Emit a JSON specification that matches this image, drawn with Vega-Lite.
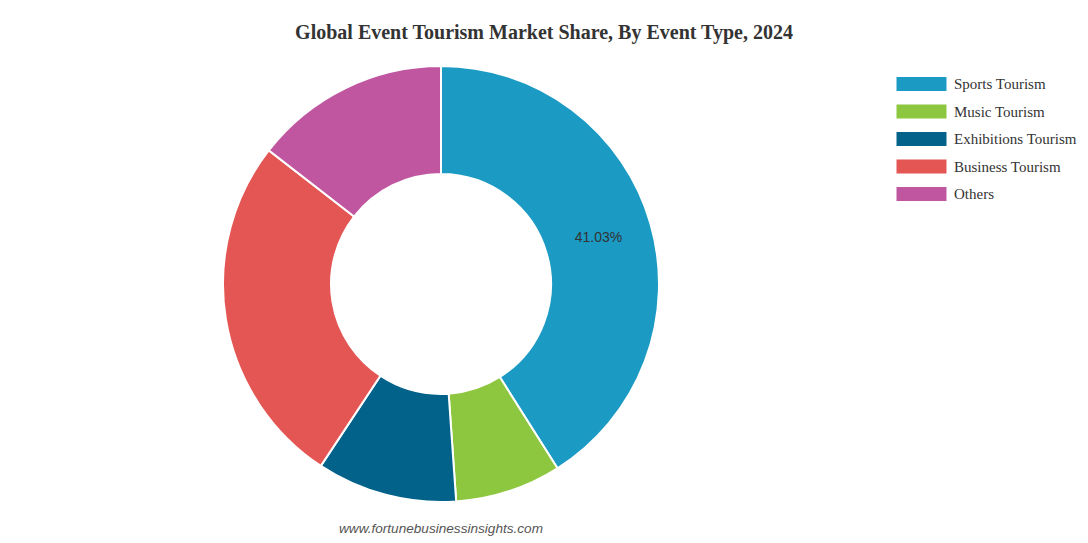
{
  "$schema": "https://vega.github.io/schema/vega-lite/v6.json",
  "autosize": "none",
  "width": 882,
  "height": 436,
  "padding": {"left": 0, "top": 66, "right": 206, "bottom": 41},
  "background": "white",
  "title": {
    "text": "Global Event Tourism Market Share, By Event Type, 2024",
    "font": "Liberation Serif",
    "fontSize": 20,
    "fontWeight": "bold",
    "color": "#333333",
    "anchor": "middle",
    "dx": 103,
    "offset": 19
  },
  "config": {"view": {"stroke": null}},
  "layer": [
    {
      "data": {
        "values": [
          {"type": "Sports Tourism", "share": 41.03, "idx": 1, "label": "41.03%"},
          {"type": "Music Tourism", "share": 7.86, "idx": 2, "label": ""},
          {"type": "Exhibitions Tourism", "share": 10.4, "idx": 3, "label": ""},
          {"type": "Business Tourism", "share": 26.21, "idx": 4, "label": ""},
          {"type": "Others", "share": 14.5, "idx": 5, "label": ""}
        ]
      },
      "encoding": {
        "theta": {"field": "share", "type": "quantitative", "stack": true},
        "order": {"field": "idx", "type": "quantitative"}
      },
      "layer": [
        {
          "mark": {"type": "arc", "outerRadius": 218, "innerRadius": 110, "stroke": "white", "strokeWidth": 2},
          "encoding": {
            "color": {
              "field": "type",
              "type": "nominal",
              "sort": null,
              "scale": {
                "domain": ["Sports Tourism", "Music Tourism", "Exhibitions Tourism", "Business Tourism", "Others"],
                "range": ["#1b9ac4", "#8dc63f", "#03628a", "#e45654", "#bf569f"]
              },
              "legend": {
                "title": null,
                "orient": "none",
                "legendX": 914,
                "legendY": 10.5,
                "symbolType": "M-3.57,-1H3.57V1H-3.57Z",
                "symbolSize": 196,
                "symbolStrokeWidth": 0,
                "labelFont": "Liberation Serif",
                "labelFontSize": 15,
                "labelColor": "#333333",
                "labelOffset": 25,
                "rowPadding": 11.5
              }
            },
            "tooltip": [
              {"field": "type", "type": "nominal", "title": "Event type"},
              {"field": "share", "type": "quantitative", "title": "Share (%)"}
            ]
          }
        },
        {
          "mark": {"type": "text", "radius": 164, "font": "Liberation Sans", "fontSize": 14, "color": "#333333"},
          "encoding": {
            "text": {"field": "label", "type": "nominal"}
          }
        }
      ]
    },
    {
      "data": {"values": [{"note": "www.fortunebusinessinsights.com"}]},
      "mark": {
        "type": "text",
        "x": {"expr": "width / 2"},
        "y": {"expr": "height + 27"},
        "font": "Liberation Sans",
        "fontSize": 13.6,
        "fontStyle": "italic",
        "color": "#555555"
      },
      "encoding": {
        "text": {"field": "note", "type": "nominal"}
      }
    }
  ]
}
